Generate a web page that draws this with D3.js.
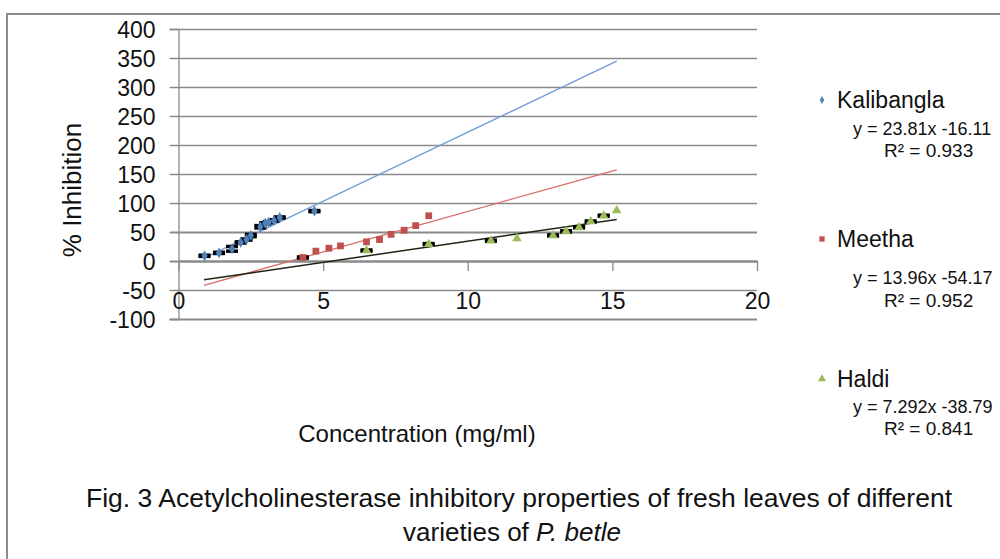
<!DOCTYPE html>
<html>
<head>
<meta charset="utf-8">
<script src="https://cdn.jsdelivr.net/npm/d3@7"></script>
<style>
  body { margin: 0; background: #fff; }
  text { font-family: "Liberation Sans", Arial, sans-serif; fill: #111; }
</style>
</head>
<body>
<svg id="chart" width="1000" height="559"></svg>
<script>
/* ---------- data ---------- */

var seriesNames = ["Kalibangla", "Meetha", "Haldi"];

var kaliConc = [0.9, 1.4, 1.85, 2.15, 2.35, 2.5, 2.83, 3.0, 3.12, 3.3, 3.5, 4.7],
    kaliInh  = [9, 14, 21, 32, 37, 44, 59, 65, 67, 70, 75, 86],
    kaliErr  = [1, 1, 4, 1, 1, 2, 2, 1, 1, 1, 1, 1];

var meethaConc = [4.3, 4.75, 5.2, 5.6, 6.5, 6.95, 7.35, 7.8, 8.2, 8.65],
    meethaInh  = [6, 17, 22, 26, 33, 37, 46, 53, 61, 78],
    meethaErr  = [1, null, null, null, null, null, null, null, null, null];

var haldiConc = [6.5, 8.65, 10.8, 11.7, 12.95, 13.4, 13.85, 14.25, 14.7, 15.15],
    haldiInh  = [18, 29, 35, 39, 44, 51, 58, 68, 78, 87],
    haldiErr  = [1, 1, 1, null, 1, 1, 1, 1, 1, null];

var slopes = [23.81, 13.96, 7.292],
    intercepts = [-16.11, -54.17, -38.79],
    trendRange = [0.88, 15.15];

var equations = ["y = 23.81x -16.11", "y = 13.96x -54.17", "y = 7.292x -38.79"],
    rSquared = ["R\u00b2 = 0.933", "R\u00b2 = 0.952", "R\u00b2 = 0.841"];

var xTicks = [0, 5, 10, 15, 20],
    yTicks = [-100, -50, 0, 50, 100, 150, 200, 250, 300, 350, 400];

/* ---------- colours ---------- */

var markerColors = ["#4f81bd", "#c0504d", "#9bbb59"],
    trendColors = ["#6f9ad8", "#d96e6b", "#1f2414"],
    gridColor = "#8a8a8a";

/* ---------- layout ---------- */

var svg = d3.select("#chart");
var x = d3.scaleLinear().domain([0, 20]).range([178.5, 757]),
    y = d3.scaleLinear().domain([-100, 400]).range([319, 29]);

svg.append("rect").attr("width", 1000).attr("height", 559).attr("fill", "#fff");

// outer frame (top + left)
svg.append("path")
    .attr("d", "M7,559V14H1000")
    .attr("fill", "none")
    .attr("stroke", "#8c8c8c")
    .attr("stroke-width", 2);

// gridlines
svg.append("g").selectAll("line")
    .data(yTicks)
  .enter().append("line")
    .attr("x1", 170).attr("x2", x(20))
    .attr("y1", function(d) { return Math.round(y(d)) + 0.5; })
    .attr("y2", function(d) { return Math.round(y(d)) + 0.5; })
    .attr("stroke", gridColor)
    .attr("stroke-width", function(d) { return (d == 0 || d == 50 || d == -100) ? 2 : 1.3; });

// y axis
var yAxis = svg.append("g")
    .attr("transform", "translate(" + x(0) + ",0)")
    .call(d3.axisLeft(y).tickValues(yTicks).tickSize(9).tickPadding(14).tickFormat(String));
yAxis.selectAll("line").attr("stroke", gridColor);
yAxis.select(".domain").attr("stroke", gridColor).attr("stroke-width", 1.3);
yAxis.selectAll("text")
    .attr("font-family", "Liberation Sans, Arial, sans-serif")
    .attr("font-size", 23).attr("fill", "#111")
    .attr("dy", "0.36em");

// x axis, crossing at y = 0
var xAxis = svg.append("g")
    .attr("transform", "translate(0," + y(0) + ")")
    .call(d3.axisBottom(x).tickValues(xTicks).tickSize(10).tickPadding(22).tickSizeOuter(0).tickFormat(String));
xAxis.selectAll("line").attr("stroke", gridColor).attr("stroke-width", 1.3);
xAxis.select(".domain").attr("stroke", gridColor).attr("stroke-width", 2);
xAxis.selectAll("text")
    .attr("font-family", "Liberation Sans, Arial, sans-serif")
    .attr("font-size", 23).attr("fill", "#111");

// axis titles
svg.append("text")
    .attr("transform", "translate(81,190) rotate(-90)")
    .attr("text-anchor", "middle")
    .attr("font-size", 26)
    .text("% Inhibition");

svg.append("text")
    .attr("x", 417).attr("y", 442)
    .attr("text-anchor", "middle")
    .attr("font-size", 24)
    .text("Concentration (mg/ml)");

/* ---------- series ---------- */

var series = [
    {conc: kaliConc, inh: kaliInh, err: kaliErr},
    {conc: meethaConc, inh: meethaInh, err: meethaErr},
    {conc: haldiConc, inh: haldiInh, err: haldiErr}
];

var symbols = [d3.symbolDiamond, d3.symbolSquare, d3.symbolTriangle],
    symbolSizes = [34, 46, 40];

// trendlines
series.forEach(function(s, i) {
    var pts = trendRange.map(function(c) { return [c, slopes[i] * c + intercepts[i]]; });
    svg.append("path")
        .datum(pts)
        .attr("fill", "none")
        .attr("stroke", trendColors[i])
        .attr("stroke-width", i == 2 ? 1.5 : 1.3)
        .attr("d", d3.line().x(function(d) { return x(d[0]); }).y(function(d) { return y(d[1]); }));
});

// error bars (black caps) behind markers
series.forEach(function(s, i) {
    var g = svg.append("g");
    s.conc.forEach(function(c, j) {
        var e = s.err[j];
        if (e == null) return;
        var cx = x(c);
        g.append("line")
            .attr("x1", cx).attr("x2", cx)
            .attr("y1", y(s.inh[j] - e)).attr("y2", y(s.inh[j] + e))
            .attr("stroke", "#000").attr("stroke-width", 1);
        [s.inh[j] - e, s.inh[j] + e].forEach(function(v) {
            g.append("line")
                .attr("x1", cx - 6).attr("x2", cx + 6)
                .attr("y1", y(v)).attr("y2", y(v))
                .attr("stroke", "#000").attr("stroke-width", 3.5);
        });
    });
});

// markers
series.forEach(function(s, i) {
    svg.append("g").selectAll("path")
        .data(s.conc.map(function(c, j) { return [c, s.inh[j]]; }))
      .enter().append("path")
        .attr("transform", function(d) { return "translate(" + x(d[0]) + "," + y(d[1]) + ")"; })
        .attr("d", d3.symbol().type(symbols[i]).size(symbolSizes[i]))
        .attr("fill", markerColors[i]);
});

/* ---------- legend ---------- */

var legendY = [100, 239, 379],
    eqY = [135, 284, 413],
    r2Y = [157, 307, 435];

seriesNames.forEach(function(name, i) {
    svg.append("path")
        .attr("transform", "translate(822," + legendY[i] + ")")
        .attr("d", d3.symbol().type(symbols[i]).size(i == 0 ? 18 : 28))
        .attr("fill", markerColors[i]);
    svg.append("text")
        .attr("x", 837).attr("y", legendY[i] + 8)
        .attr("font-size", 23)
        .text(name);
    svg.append("text")
        .attr("x", 853).attr("y", eqY[i])
        .attr("font-size", 18)
        .text(equations[i]);
    svg.append("text")
        .attr("x", 884).attr("y", r2Y[i])
        .attr("font-size", 19)
        .text(rSquared[i]);
});

/* ---------- caption ---------- */

svg.append("text")
    .attr("x", 519).attr("y", 507)
    .attr("text-anchor", "middle")
    .attr("font-size", 26)
    .attr("textLength", 866)
    .attr("lengthAdjust", "spacingAndGlyphs")
    .text("Fig. 3  Acetylcholinesterase inhibitory properties of fresh leaves of different");

var cap2 = svg.append("text")
    .attr("x", 512).attr("y", 541)
    .attr("text-anchor", "middle")
    .attr("font-size", 26);
cap2.append("tspan").text("varieties of ");
cap2.append("tspan").attr("font-style", "italic").text("P. betle");
</script>
</body>
</html>
